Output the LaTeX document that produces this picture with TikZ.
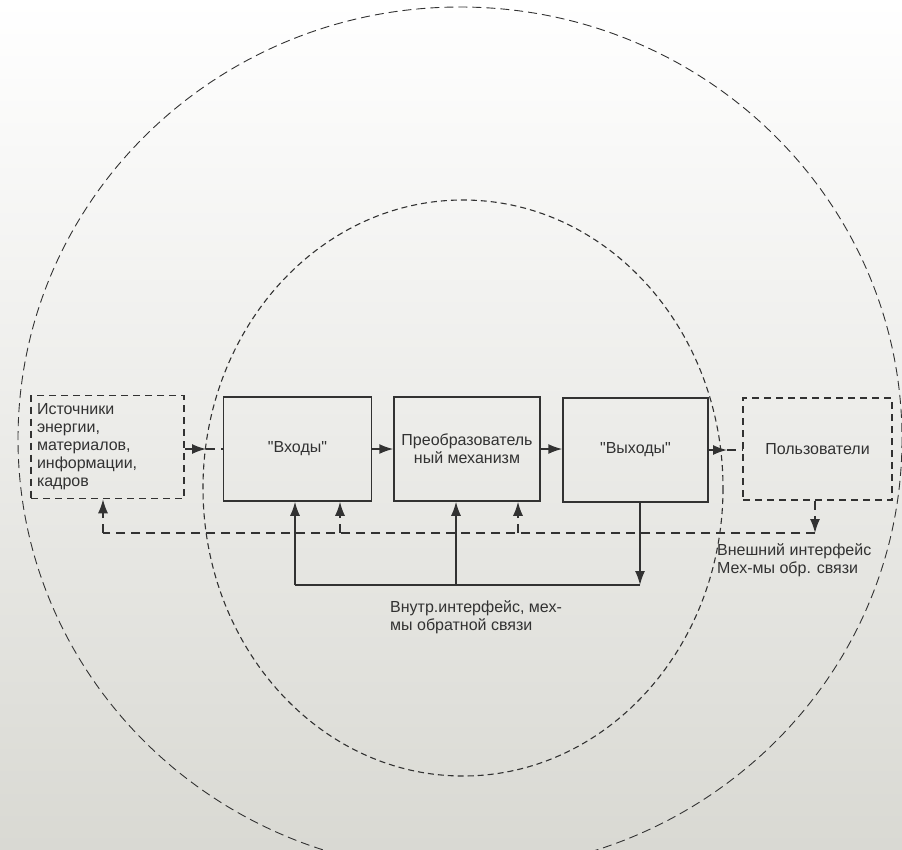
\documentclass[tikz,border=0pt]{standalone}
\usepackage{fontspec}
\setmainfont{Liberation Sans}[Ligatures=TeXOff]
\usetikzlibrary{
    arrows.meta, positioning, calc
}
\definecolor{colInk}{RGB}{50, 50, 50}
\definecolor{colPaper}{RGB}{217, 217, 211}

\tikzset{
    blok/.style={draw=colInk, line width=1.5pt, minimum width=148pt, minimum height=104pt, inner sep=0pt, align=center},
    blokpunkt/.style={blok, dash pattern=on 7pt off 5pt},
    linija/.style={draw=colInk, line width=1.5pt},
    strelka/.style={linija, -{Latex[length=14pt, width=10pt]}},
    punktir/.style={dash pattern=on 9pt off 6pt},
    metka/.style={anchor=north west, align=left, inner sep=0pt}
}

\begin{document}
\begin{tikzpicture}[x=1pt, y=-1pt, every node/.style={font=\fontsize{16}{18}\selectfont, text=colInk}]
    \useasboundingbox (0, 0) rectangle (902, 849);
    \shade[top color=white, bottom color=colPaper] (0, 0) rectangle (902, 849);
    \clip (0, 0) rectangle (902, 849);

    % --- Konturi (vneshnij i vnutrennij) ---
    \draw[colInk, line width=0.9pt, dash pattern=on 9pt off 5pt] (460, 439) ellipse [x radius=442, y radius=432];
    \draw[colInk, line width=1.1pt, dash pattern=on 6pt off 4pt] (463, 488) ellipse [x radius=260, y radius=288];

    % --- Bloki ---
    \node[blokpunkt, minimum width=153pt, minimum height=103pt, text width=141pt, align=left] (istoch) at (107.5, 447)
        {Источники\\энергии,\\материалов,\\информации,\\кадров};
    \node[blok] (vhody) at (297.5, 449) {"Входы"};
    \node[blok, minimum width=146pt] (preob) at (467, 449) {Преобразователь\\ный механизм};
    \node[blok, minimum width=145pt] (vyhody) at (635.5, 450) {"Выходы"};
    \node[blokpunkt, minimum width=149pt, minimum height=102pt] (polz) at (817.5, 449) {Пользователи};

    % --- Prjamye svjazi ---
    \coordinate (vhodT) at (206, 449);
    \coordinate (vyhT) at (727, 450);
    \draw[strelka, punktir] (istoch.east |- vhodT) -- (vhodT);
    \draw[linija, punktir] (vhodT) -- (vhody.west);
    \draw[strelka] (vhody.east) -- (preob.west |- vhody.east);
    \draw[strelka] (preob.east) -- (vyhody.west |- preob.east);
    \draw[strelka] (vyhody.east) -- (vyhT);
    \draw[linija, punktir] (vyhT) -- (polz.west |- vyhT);

    % --- Vnutrennjaja obratnaja svjaz' ---
    \coordinate (inL) at (295, 585);
    \coordinate (inM) at (456, 585);
    \coordinate (inR) at (640, 585);
    \draw[strelka] (vyhody.south -| inR) -- (inR);
    \draw[linija] (inR) -- (inL);
    \draw[strelka] (inL) -- (inL |- vhody.south);
    \draw[strelka] (inM) -- (inM |- preob.south);

    % --- Vneshnjaja obratnaja svjaz' (punktir) ---
    \coordinate (exL) at (103, 533);
    \coordinate (ex1) at (340, 533);
    \coordinate (ex2) at (518, 533);
    \coordinate (exR) at (815, 533);
    \draw[strelka, punktir] (polz.south -| exR) -- (exR);
    \draw[linija, punktir] (exR) -- (exL);
    \draw[strelka, punktir] (exL) -- (exL |- istoch.south);
    \draw[strelka, punktir] (ex1) -- (ex1 |- vhody.south);
    \draw[strelka, punktir] (ex2) -- (ex2 |- preob.south);

    % --- Podpisi ---
    \node[metka] (vnutr) at (390, 600) {Внутр.интерфейс, мех-\\мы обратной связи};
    \node[metka] (vnesh) at (717, 543) {Внешний интерфейс\\Мех-мы обр. связи};

\end{tikzpicture}
\end{document}
